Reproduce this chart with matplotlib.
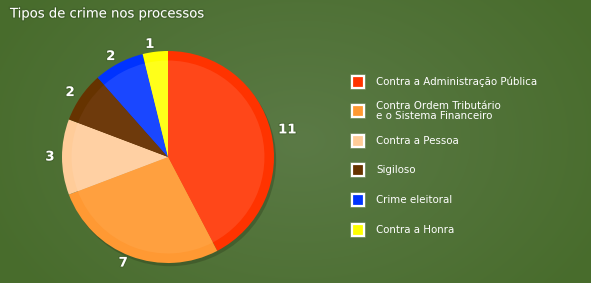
import numpy as np
import matplotlib.pyplot as plt
import matplotlib.patheffects as pe
from matplotlib.patches import Rectangle, Circle

title = "Tipos de crime nos processos"
categories = ["Contra a Administração Pública",
              "Contra Ordem Tributário\ne o Sistema Financeiro",
              "Contra a Pessoa",
              "Sigiloso",
              "Crime eleitoral",
              "Contra a Honra"]
values = [11, 7, 3, 2, 2, 1]
colors = ["#ff3300", "#ff9933", "#ffcc99", "#663300", "#0033ff", "#ffff00"]
inner = ["#ff4719", "#ffa03f", "#ffd0a3", "#6e3a0c", "#1a47ff", "#ffff1a"]

W, H = 591, 283
fig = plt.figure(figsize=(W / 100, H / 100), dpi=100)

# background: soft radial green gradient
bg = fig.add_axes([0, 0, 1, 1])
yy, xx = np.mgrid[0:H, 0:W]
d = np.sqrt(((xx - 300) / 340.0) ** 2 + ((yy - 140) / 240.0) ** 2)
d = np.clip(d, 0, 1)
c0 = np.array([0x5b, 0x7a, 0x46]) / 255.0
c1 = np.array([0x48, 0x6c, 0x2c]) / 255.0
img = c0[None, None, :] * (1 - d[..., None]) + c1[None, None, :] * d[..., None]
bg.imshow(img, extent=[0, W, H, 0], aspect="auto")
bg.set_xlim(0, W)
bg.set_ylim(H, 0)
bg.axis("off")

bg.text(10, 14, title, color="white", fontsize=9.5, va="center", ha="left",
        path_effects=[pe.withStroke(linewidth=2, foreground="#3d5a28", alpha=0.5)])

# legend
rows = [82, 111, 141, 170, 200, 230]
for lab, col, y in zip(categories, colors, rows):
    bg.add_patch(Rectangle((350, y - 8), 16, 16, facecolor="#ffffff", alpha=0.12,
                           edgecolor="none"))
    bg.add_patch(Rectangle((352, y - 6), 12, 12, facecolor=col, edgecolor="white",
                           linewidth=1.6))
    bg.text(376, y, lab, color="white", fontsize=7.4, va="center", ha="left",
            linespacing=0.95)

# pie
cx, cy, r = 168, 157, 106
half = r * 1.1
ax = fig.add_axes([(cx - half) / W, (H - cy - half) / H, 2 * half / W, 2 * half / H])
ax.add_patch(Circle((0.02, -0.03), 1.0, facecolor="#2a3a1a", alpha=0.35, zorder=0))
wedges, texts = ax.pie(values, colors=colors, startangle=90, counterclock=False,
                       labels=[str(v) for v in values], labeldistance=1.07,
                       textprops=dict(color="white", fontsize=9.5, fontweight="bold"),
                       radius=1.0, frame=True)
for t in texts:
    t.set_path_effects([pe.withStroke(linewidth=1.5, foreground="#3d5a28", alpha=0.6)])
ax.pie(values, colors=inner, startangle=90, counterclock=False, radius=0.91,
       frame=True)
ax.set_xlim(-1.1, 1.1)
ax.set_ylim(-1.1, 1.1)
ax.set_aspect("auto")
ax.axis("off")

fig.savefig("out.png", dpi=100)
